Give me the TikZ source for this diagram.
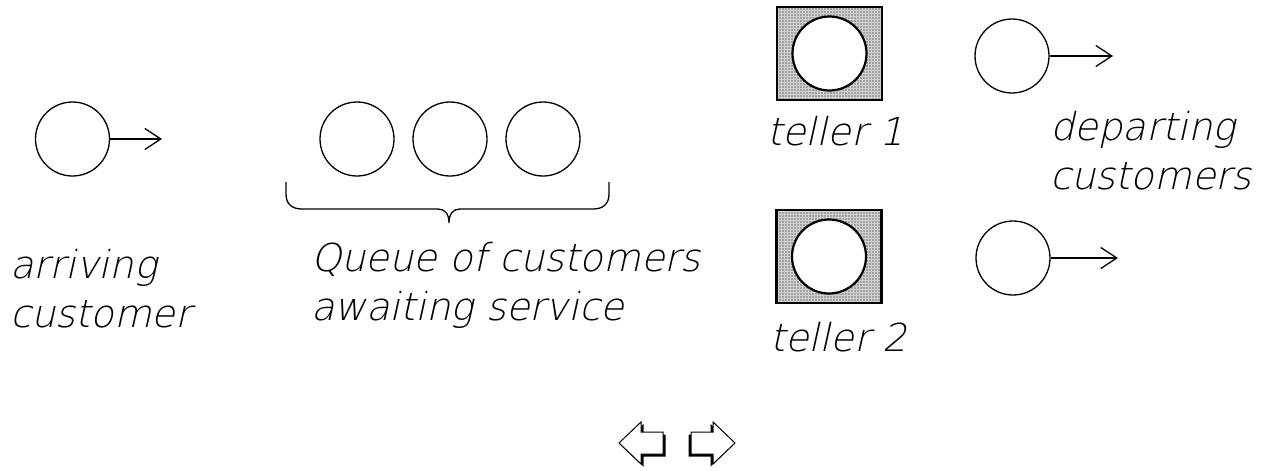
\documentclass[tikz,border=0pt]{standalone}
\usepackage{fontspec}
\setmainfont{DejaVu Sans}
\newfontfamily\lblfont[FakeSlant=0.22]{DejaVu Sans ExtraLight}
\usetikzlibrary{arrows.meta,patterns.meta}

\tikzset{
  cust/.style={circle, draw, line width=1.3pt, minimum size=74pt, inner sep=0pt},
  served/.style={circle, draw, fill=white, line width=2.2pt, minimum size=74pt, inner sep=0pt},
  teller/.style={draw, line width=2.8pt, minimum width=105pt, minimum height=93pt, inner sep=0pt,
    fill=black!18, postaction={pattern={Dots[radius=0.65pt,distance=3pt]}}},
  lbl/.style={anchor=base west, inner sep=0pt, align=left,
    font=\lblfont\fontsize{38.5}{49}\selectfont},
  move/.style={-{Straight Barb[length=16pt,width=21pt]}, line width=1.3pt},
  navbtn/.style={draw, fill=white, line width=1pt}
}

\begin{document}
\begin{tikzpicture}[x=1pt, y=-1pt]
  \useasboundingbox (0,0) rectangle (1261,471);

  % customer on the way in (label anchored on its last line)
  \node[cust] (arrival) at (72.5,139) {};
  \coordinate (arrivalEnd) at (162,139);
  \draw[move] (arrival) -- (arrivalEnd);
  \node[lbl] (arrivalText) at (10,327) {arriving\\customer};

  % waiting line
  \foreach \i/\x in {1/357,2/450,3/543}
    \node[cust] (queue\i) at (\x,139) {};
  \coordinate (braceL) at (286,182);
  \coordinate (braceR) at (609,182);
  \coordinate (braceTip) at (449,223);
  \draw[line width=1.3pt] (braceL) -- (286,194) .. controls (286,204) and (292,209) .. (302,209)
    -- (438,209) .. controls (445,209) and (449,214) .. (braceTip)
    .. controls (449,214) and (453,209) .. (460,209)
    -- (593,209) .. controls (603,209) and (609,204) .. (609,194) -- (braceR);
  \node[lbl] (queueText) at (311,320) {Queue of customers\\awaiting service};

  % the two service windows
  \node[teller] (teller1) at (829.5,53.5) {};
  \node[served] (served1) at (teller1.center) {};
  \node[lbl] (teller1Text) at (767,145) {teller 1};
  \node[teller] (teller2) at (829,256.5) {};
  \node[served] (served2) at (teller2.center) {};
  \node[lbl] (teller2Text) at (770,351) {teller 2};

  % customers leaving
  \node[cust] (depart1) at (1012,56) {};
  \coordinate (depart1End) at (1113,56);
  \draw[move] (depart1) -- (depart1End);
  \node[cust] (depart2) at (1013,258) {};
  \coordinate (depart2End) at (1118,258);
  \draw[move] (depart2) -- (depart2End);
  \node[lbl] (departText) at (1050,189) {departing\\customers};

  % back / next buttons
  \foreach \dir/\cx in {1/641,-1/713} {
    \begin{scope}[shift={(\cx,443)}, xscale=\dir]
      \fill (-20,2.5) -- (2.5,-19) -- (2.5,-8.5) -- (24.5,-8.5) -- (24.5,13.5) -- (2.5,13.5) -- (2.5,23.5) -- cycle;
      \draw[navbtn] (-22,0) -- (0,-21) -- (0,-11) -- (22,-11) -- (22,11) -- (0,11) -- (0,21) -- cycle;
    \end{scope}
  }
\end{tikzpicture}
\end{document}
